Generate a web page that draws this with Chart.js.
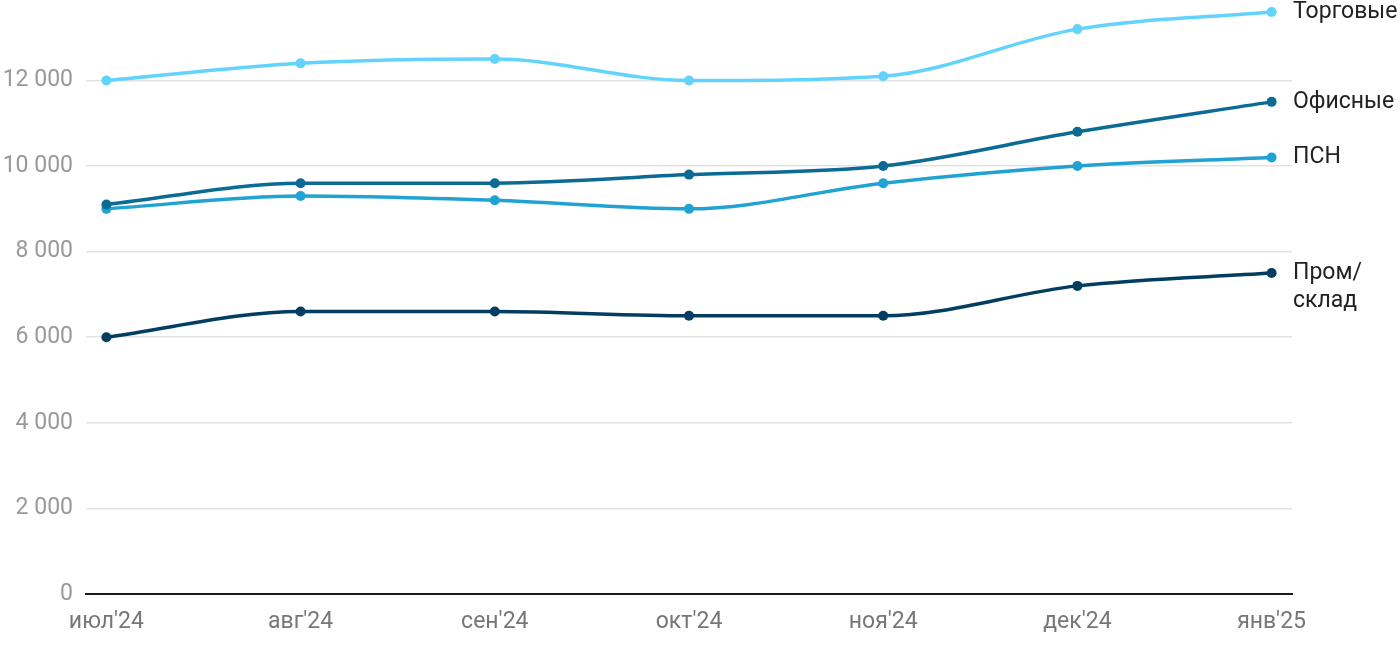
<!DOCTYPE html>
<html>
<head>
<meta charset="utf-8">
<script src="https://cdn.jsdelivr.net/npm/chart.js@4"></script>
<style>
  html, body { margin: 0; padding: 0; background: #fff; }
  #wrap { width: 1400px; height: 650px; position: relative; }
</style>
</head>
<body>
<div id="wrap"><canvas id="chart"></canvas></div>
<script>
const months = ["июл'24", "авг'24", "сен'24", "окт'24", "ноя'24", "дек'24", "янв'25"];
const retail = [12000, 12400, 12500, 12000, 12100, 13200, 13600];
const office = [9100, 9600, 9600, 9800, 10000, 10800, 11500];
const psn = [9000, 9300, 9200, 9000, 9600, 10000, 10200];
const industrial = [6000, 6600, 6600, 6500, 6500, 7200, 7500];
const yTicks = [0, 2000, 4000, 6000, 8000, 10000, 12000];

const fmt = v => String(v).replace(/\B(?=(\d{3})+(?!\d))/g, ' ');
const toPoints = arr => arr.map((y, i) => ({ x: i, y }));

function series(label, data, color) {
  return {
    label,
    data: toPoints(data),
    borderColor: color,
    backgroundColor: color,
    borderWidth: 3.5,
    pointRadius: 5,
    pointBorderWidth: 0,
    cubicInterpolationMode: 'monotone',
    clip: false
  };
}

// подписи серий справа от последней точки
const endLabels = {
  id: 'endLabels',
  afterDatasetsDraw(chart) {
    const ctx = chart.ctx;
    ctx.save();
    ctx.font = '23px Roboto';
    ctx.fillStyle = '#222';
    ctx.textBaseline = 'middle';
    ctx.textAlign = 'left';
    chart.data.datasets.forEach((ds, i) => {
      const pts = chart.getDatasetMeta(i).data;
      const p = pts[pts.length - 1];
      const lines = ds.label.split('\n');
      lines.forEach((t, k) => ctx.fillText(t, chart.chartArea.right + 1, p.y + k * 28));
    });
    ctx.restore();
  }
};

new Chart(document.querySelector('#chart').getContext('2d'), {
  type: 'line',
  data: {
    datasets: [
      series('Торговые', retail, '#62d3fb'),
      series('Офисные', office, '#0b6b94'),
      series('ПСН', psn, '#20a3d2'),
      series('Пром/\nсклад', industrial, '#023d62')
    ]
  },
  options: {
    responsive: true,
    maintainAspectRatio: false,
    animation: false,
    layout: { padding: { top: 12, right: 108, left: 0, bottom: 0 } },
    plugins: {
      legend: { display: false },
      tooltip: { enabled: false }
    },
    scales: {
      x: {
        type: 'linear',
        min: -0.105,
        max: 6.105,
        afterBuildTicks: s => { s.ticks = months.map((m, i) => ({ value: i })); },
        afterFit: s => { s.height = 56; s.paddingLeft = 0; s.paddingRight = 0; },
        grid: { display: false, drawTicks: false },
        border: { display: true, color: '#1a1a1a', width: 2 },
        ticks: {
          padding: 14,
          color: '#777',
          font: { family: 'Roboto', size: 23 },
          maxRotation: 0,
          callback: v => months[v]
        }
      },
      y: {
        min: 0,
        max: 13600,
        afterBuildTicks: s => { s.ticks = yTicks.map(v => ({ value: v })); },
        afterFit: s => { s.width = 86; s.paddingTop = 0; s.paddingBottom = 0; },
        grid: { color: '#e3e3e3', lineWidth: 1.5, drawTicks: false },
        border: { display: false },
        ticks: {
          padding: 13,
          color: '#999',
          font: { family: 'Roboto', size: 23 },
          callback: v => fmt(v)
        }
      }
    }
  },
  plugins: [endLabels]
});
</script>
</body>
</html>
